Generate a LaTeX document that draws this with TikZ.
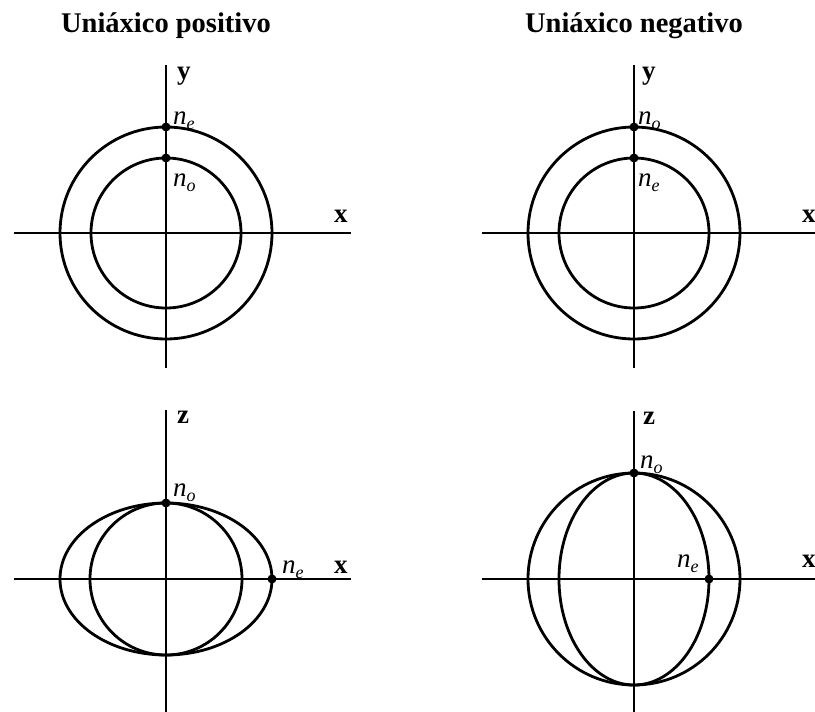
\documentclass[tikz,border=0pt]{standalone}
\usepackage{fontspec}
\setmainfont{Liberation Serif}
\newcommand{\nidx}[1]{\textit{n}\raisebox{-0.22em}{\fontsize{18}{18}\selectfont\textit{#1}}}
\begin{document}
\begin{tikzpicture}[x=1pt,y=-1pt]
\tikzset{
  axis/.style={line width=1.6pt},
  curve/.style={line width=2.8pt},
  pt/.style={circle,fill=black,inner sep=0pt,minimum size=9pt},
  title/.style={font=\fontsize{28.5}{28.5}\selectfont\bfseries,anchor=base,inner sep=0pt},
  axlabel/.style={font=\fontsize{27}{27}\selectfont\bfseries,anchor=base west,inner sep=0pt},
  idx/.style={font=\fontsize{27}{27}\selectfont,anchor=base west,inner sep=0pt}
}
\useasboundingbox (0,0) rectangle (815,712);

% ---------- top-left: positive uniaxial, xy ----------
\node[title] (t1) at (166,32) {Uniáxico positivo};
\coordinate (a1l) at (14,233); \coordinate (a1r) at (351,233);
\coordinate (a1t) at (166,65); \coordinate (a1b) at (166,368);
\draw[axis] (a1l) -- (a1r);
\draw[axis] (a1t) -- (a1b);
\coordinate (c1) at (166,233);
\draw[curve] (c1) circle[radius=106pt];
\draw[curve] (c1) circle[radius=75pt];
\node[pt] (p1e) at (166,127) {};
\node[pt] (p1o) at (166,158) {};
\node[axlabel] (y1) at (177,79) {y};
\node[axlabel] (x1) at (334,222) {x};
\node[idx] (l1e) at (173,124) {\nidx{e}};
\node[idx] (l1o) at (173,186) {\nidx{o}};

% ---------- top-right: negative uniaxial, xy ----------
\node[title] (t2) at (634,32) {Uniáxico negativo};
\coordinate (a2l) at (482,233); \coordinate (a2r) at (815,233);
\coordinate (a2t) at (634,65); \coordinate (a2b) at (634,368);
\draw[axis] (a2l) -- (a2r);
\draw[axis] (a2t) -- (a2b);
\coordinate (c2) at (634,233);
\draw[curve] (c2) circle[radius=106pt];
\draw[curve] (c2) circle[radius=75pt];
\node[pt] (p2o) at (634,127) {};
\node[pt] (p2e) at (634,158) {};
\node[axlabel] (y2) at (642,79) {y};
\node[axlabel] (x2) at (802,222) {x};
\node[idx] (l2o) at (638,124) {\nidx{o}};
\node[idx] (l2e) at (638,186) {\nidx{e}};

% ---------- bottom-left: positive uniaxial, xz ----------
\coordinate (a3l) at (14,579); \coordinate (a3r) at (351,579);
\coordinate (a3t) at (166,410); \coordinate (a3b) at (166,712);
\draw[axis] (a3l) -- (a3r);
\draw[axis] (a3t) -- (a3b);
\coordinate (c3) at (166,579);
\draw[curve] (c3) ellipse[x radius=106pt,y radius=76pt];
\draw[curve] (c3) circle[radius=76pt];
\node[pt] (p3o) at (166,503) {};
\node[pt] (p3e) at (272,579) {};
\node[axlabel] (z3) at (177,423) {z};
\node[axlabel] (x3) at (334,573) {x};
\node[idx] (l3o) at (173,496) {\nidx{o}};
\node[idx] (l3e) at (282,573) {\nidx{e}};

% ---------- bottom-right: negative uniaxial, xz ----------
\coordinate (a4l) at (482,579); \coordinate (a4r) at (815,579);
\coordinate (a4t) at (634,411); \coordinate (a4b) at (634,712);
\draw[axis] (a4l) -- (a4r);
\draw[axis] (a4t) -- (a4b);
\coordinate (c4) at (634,579);
\draw[curve] (c4) circle[radius=106pt];
\draw[curve] (c4) ellipse[x radius=75pt,y radius=106pt];
\node[pt] (p4o) at (634,473) {};
\node[pt] (p4e) at (709,579) {};
\node[axlabel] (z4) at (643,424) {z};
\node[axlabel] (x4) at (802,567) {x};
\node[idx] (l4o) at (640,468) {\nidx{o}};
\node[idx] (l4e) at (677,567) {\nidx{e}};
\end{tikzpicture}
\end{document}
